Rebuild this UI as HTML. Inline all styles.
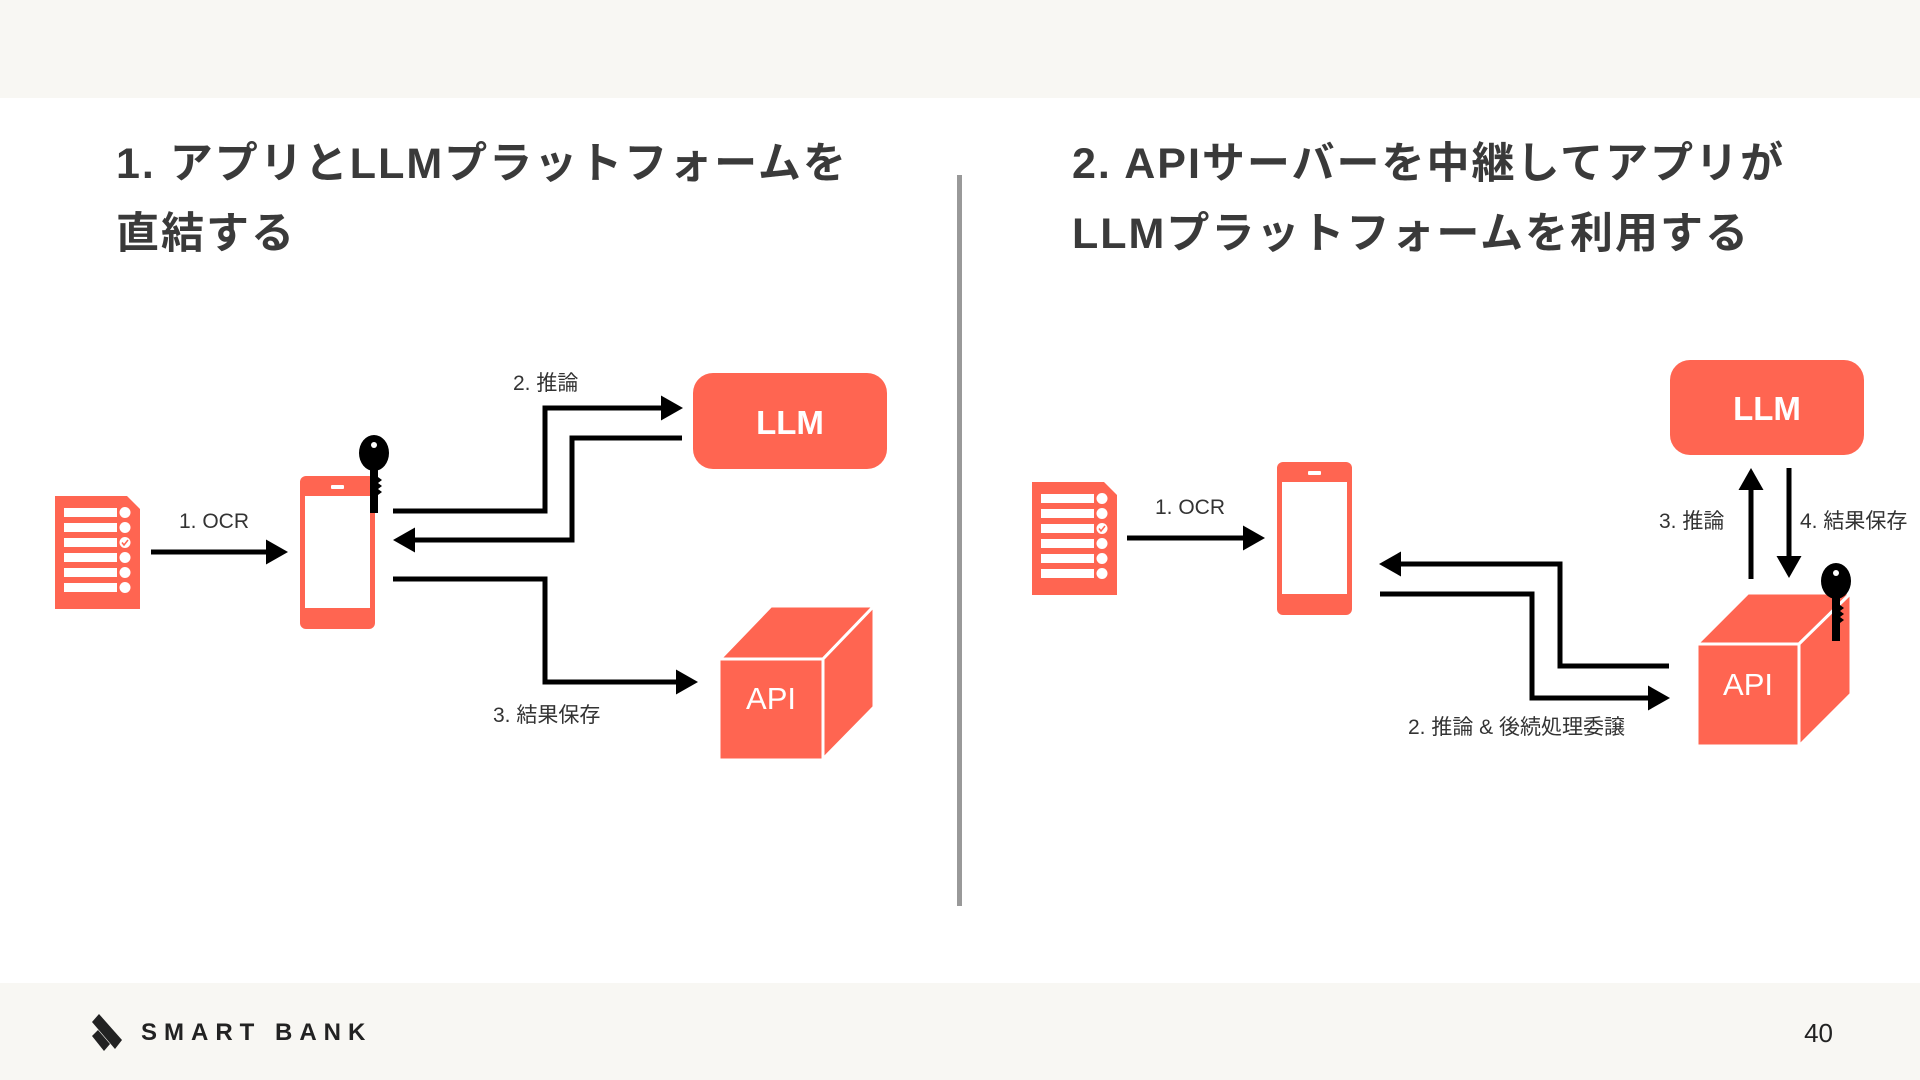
<!DOCTYPE html>
<html><head><meta charset="utf-8"><style>
html,body{margin:0;padding:0;width:1920px;height:1080px;overflow:hidden;background:#fff;font-family:"Liberation Sans","Noto Sans CJK JP",sans-serif;}
svg{display:block}
</style></head><body>
<svg width="1920" height="1080" viewBox="0 0 1920 1080" xmlns="http://www.w3.org/2000/svg" font-family="Liberation Sans, Noto Sans CJK JP, sans-serif">
<defs>
<marker id="ah" markerWidth="5" markerHeight="5" refX="3.2" refY="2.5" orient="auto" markerUnits="strokeWidth">
<path d="M0,0 L4.4,2.5 L0,5 z" fill="#000"/>
</marker>
<g id="doc">
<path d="M0,0 H72 L85,13 V113 H0 z" fill="#ff6551"/>
<g fill="#fff">
<rect x="9" y="12" width="53" height="9"/><circle cx="70" cy="16.5" r="5.5"/>
<rect x="9" y="27" width="53" height="9"/><circle cx="70" cy="31.5" r="5.5"/>
<rect x="9" y="42" width="53" height="9"/><circle cx="70" cy="46.5" r="5.5"/>
<rect x="9" y="57" width="53" height="9"/><circle cx="70" cy="61.5" r="5.5"/>
<rect x="9" y="72" width="53" height="9"/><circle cx="70" cy="76.5" r="5.5"/>
<rect x="9" y="87" width="53" height="9"/><circle cx="70" cy="91.5" r="5.5"/>
</g>
<path d="M67,46.5 l2,2.5 l4,-5" stroke="#ff6551" stroke-width="1.5" fill="none"/>
</g>
<g id="phone">
<rect x="0" y="0" width="75" height="153" rx="6" fill="#ff6551"/>
<rect x="5" y="20" width="65" height="112" fill="#fff"/>
<rect x="31" y="9" width="13" height="4" rx="1" fill="#fff"/>
</g>
<g id="key">
<ellipse cx="15" cy="18" rx="15" ry="18" fill="#000"/>
<circle cx="15" cy="10" r="3" fill="#fff"/>
<rect x="11" y="30" width="8" height="48" fill="#000"/>
<path d="M19,42 l4,3 l-4,3 l4,3 l-4,3 l4,3 l-4,3z" fill="#000"/>
</g>
</defs>
<rect x="0" y="0" width="1920" height="98" fill="#f8f7f3"/>
<rect x="0" y="983" width="1920" height="97" fill="#f8f7f3"/>
<rect x="957" y="175" width="5" height="731" fill="#999"/>
<g font-size="43" font-weight="bold" fill="#3a3a3a" letter-spacing="2">
<text x="116" y="178">1. アプリとLLMプラットフォームを</text>
<text x="116" y="248">直結する</text>
<text x="1072" y="178">2. APIサーバーを中継してアプリが</text>
<text x="1072" y="248">LLMプラットフォームを利用する</text>
</g>
<use href="#doc" x="55" y="496"/>
<use href="#phone" x="300" y="476"/>
<use href="#key" x="359" y="435"/>
<g stroke="#000" stroke-width="5" fill="none" marker-end="url(#ah)">
<path d="M151,552 H282"/>
<path d="M393,511 H545 V408 H677"/>
<path d="M682,438 H572 V540 H399"/>
<path d="M393,579 H545 V682 H692"/>
</g>
<g font-size="21" fill="#333">
<text x="179" y="528">1. OCR</text>
<text x="513" y="390">2. 推論</text>
<text x="493" y="722">3. 結果保存</text>
</g>
<rect x="693" y="373" width="194" height="96" rx="20" fill="#ff6551"/>
<text x="790" y="434" font-size="33" font-weight="bold" fill="#fff" text-anchor="middle">LLM</text>
<g stroke="#fff" stroke-width="3" stroke-linejoin="round">
<path d="M720,659 L771,606 H874 L823,659 z" fill="#ff6551"/>
<path d="M823,659 L874,606 V707 L823,759 z" fill="#ff6551"/>
<rect x="719" y="659" width="104" height="101" fill="#ff6551"/>
</g>
<text x="771" y="709" font-size="31" fill="#fff" text-anchor="middle">API</text>
<use href="#doc" x="1032" y="482"/>
<use href="#phone" x="1277" y="462"/>
<g stroke="#000" stroke-width="5" fill="none" marker-end="url(#ah)">
<path d="M1127,538 H1259"/>
<path d="M1669,666 H1560 V564 H1385"/>
<path d="M1380,594 H1532 V698 H1664"/>
<path d="M1751,579 V474"/>
<path d="M1789,468 V572"/>
</g>
<g font-size="21" fill="#333">
<text x="1155" y="514">1. OCR</text>
<text x="1408" y="734">2. 推論 &amp; 後続処理委譲</text>
<text x="1659" y="528">3. 推論</text>
<text x="1800" y="528">4. 結果保存</text>
</g>
<rect x="1670" y="360" width="194" height="95" rx="20" fill="#ff6551"/>
<text x="1767" y="420" font-size="33" font-weight="bold" fill="#fff" text-anchor="middle">LLM</text>
<g stroke="#fff" stroke-width="3" stroke-linejoin="round">
<path d="M1697,644 L1748,593 H1851 L1799,644 z" fill="#ff6551"/>
<path d="M1799,644 L1851,593 V694 L1799,746 z" fill="#ff6551"/>
<rect x="1697" y="644" width="102" height="102" fill="#ff6551"/>
</g>
<text x="1748" y="695" font-size="31" fill="#fff" text-anchor="middle">API</text>
<use href="#key" x="1821" y="563"/>
<g fill="#222">
<path d="M92,1022 L99,1014 L122,1040 L115,1049 z"/>
<path d="M92,1036 L98,1030 L110,1044 L104,1051 z"/>
</g>
<text x="141" y="1040" font-size="24" font-weight="bold" fill="#222" letter-spacing="7">SMART BANK</text>
<text x="1833" y="1042" font-size="26" fill="#222" text-anchor="end">40</text>
</svg>
</body></html>
